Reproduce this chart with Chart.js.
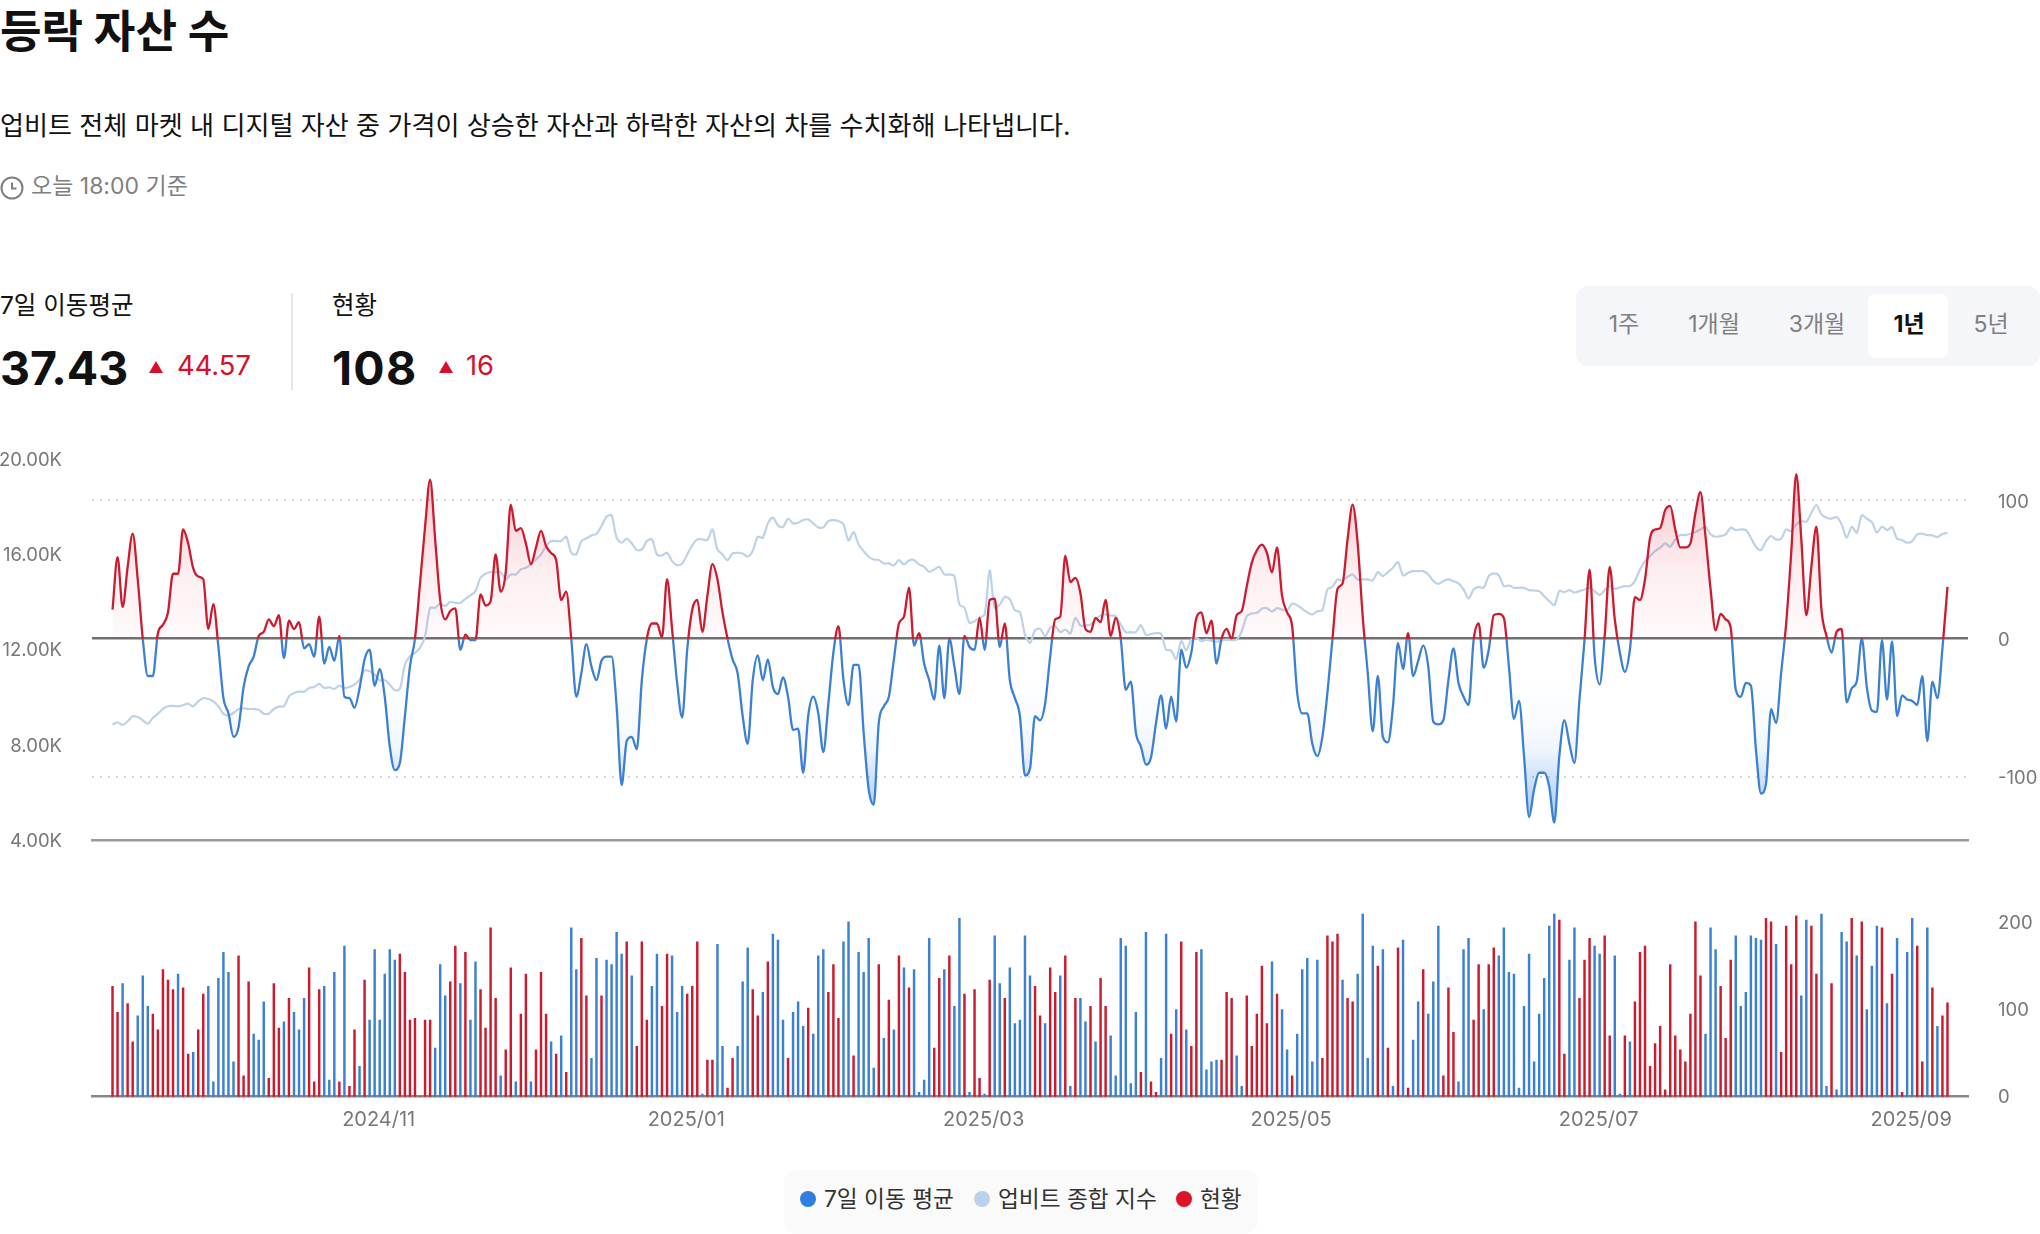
<!DOCTYPE html>
<html lang="ko">
<head>
<meta charset="utf-8">
<title>등락 자산 수</title>
<script src="https://cdn.jsdelivr.net/npm/chart.js@4"></script>
<style>
html, body { margin: 0; padding: 0; background: #fff; }
body { width: 2040px; height: 1234px; position: relative; overflow: hidden; font-family: Inter, "Noto Sans CJK KR", sans-serif; color: #111; }
.t { position: absolute; white-space: nowrap; line-height: 40px; height: 40px; }
.seg { position: absolute; left: 1576px; top: 286px; width: 464px; height: 80px; background: #f5f6fa; border-radius: 12px; }
.seg-on { position: absolute; left: 1868px; top: 294px; width: 80px; height: 64px; background: #fff; border-radius: 8px; }
.btn { transform: translateX(-50%); font-size: 23px; color: #808080; top: 304px; }
.tri { position: absolute; width: 0; height: 0; border-left: 7.5px solid transparent; border-right: 7.5px solid transparent; border-bottom: 12px solid #d60f2a; }
.divider { position: absolute; left: 291px; top: 293px; width: 1.5px; height: 97px; background: #e4e6ea; }
.legend-box { position: absolute; left: 784px; top: 1170px; width: 474px; height: 63px; background: #fafafa; border-radius: 12px; }
.dot { position: absolute; width: 16px; height: 16px; border-radius: 50%; top: 1191px; }
canvas { position: absolute; left: 0; }
#lineWrap { position: absolute; left: 0; top: 440px; width: 2040px; height: 420px; }
#barWrap { position: absolute; left: 0; top: 880px; width: 2040px; height: 260px; }
</style>
</head>
<body>
<div class="t" style="left:0;top:10px;font-size:45.2px;font-weight:700;line-height:44px;height:44px">등락 자산 수</div>
<div class="t" style="left:0;top:106px;font-size:26.1px">업비트 전체 마켓 내 디지털 자산 중 가격이 상승한 자산과 하락한 자산의 차를 수치화해 나타냅니다.</div>
<svg style="position:absolute;left:0;top:176px" width="24" height="24" viewBox="0 0 24 24" fill="none" stroke="#808080" stroke-width="2"><circle cx="12" cy="12" r="10.5"/><path d="M12 6.5V12.5H16.5"/></svg>
<div class="t" style="left:31px;top:166px;font-size:23px;color:#808080">오늘 18:00 기준</div>

<div class="t" style="left:0;top:285px;font-size:24.5px">7일 이동평균</div>
<div class="t" style="left:0;top:348px;font-size:46.5px;font-weight:700">37.43</div>
<div class="tri" style="left:149px;top:361px"></div>
<div class="t" style="left:177px;top:346px;font-size:27.3px;color:#d60f2a">44.57</div>
<div class="divider"></div>
<div class="t" style="left:332px;top:285px;font-size:24.5px">현황</div>
<div class="t" style="left:332px;top:348px;font-size:46.5px;font-weight:700;letter-spacing:1.3px">108</div>
<div class="tri" style="left:439px;top:361px"></div>
<div class="t" style="left:466px;top:346px;font-size:27.3px;color:#d60f2a">16</div>

<div class="seg"></div>
<div class="seg-on"></div>
<div class="t btn" style="left:1624px">1주</div>
<div class="t btn" style="left:1714px">1개월</div>
<div class="t btn" style="left:1817px">3개월</div>
<div class="t btn" style="left:1909px;color:#111;font-weight:700">1년</div>
<div class="t btn" style="left:1991px">5년</div>

<div id="lineWrap"><canvas id="lineChart"></canvas></div>
<div id="barWrap"><canvas id="barChart"></canvas></div>

<div class="legend-box"></div>
<div class="dot" style="left:800px;background:#2f7fe0"></div>
<div class="t" style="left:824px;top:1179px;font-size:22.7px;color:#333">7일 이동 평균</div>
<div class="dot" style="left:974px;background:#bcd2e8"></div>
<div class="t" style="left:998px;top:1179px;font-size:22.7px;color:#333">업비트 종합 지수</div>
<div class="dot" style="left:1176px;background:#e0112b"></div>
<div class="t" style="left:1200px;top:1179px;font-size:22.7px;color:#333">현황</div>

<script>
// one entry per day, first day is 2024-09-09
const movingAvg = [
  21,59,23,52,76,43,0,-27,-27,4,
  10,19,47,47,79,69,51,45,43,7,
  25,-6,-43,-54,-71,-64,-35,-20,-13,2,
  5,14,9,17,-14,13,7,12,-7,-4,
  -13,16,-18,-6,-16,2,-42,-43,-50,-36,
  -15,-8,-34,-22,-42,-78,-95,-90,-56,-20,
  0,40,81,115,72,28,14,20,22,-8,
  3,-1,-1,32,24,27,61,34,48,97,
  78,80,69,54,66,78,67,62,57,28,
  34,0,-42,-25,-4,-20,-30,-16,-13,-13,
  -49,-106,-74,-71,-80,-30,0,11,11,1,
  43,7,-32,-57,-8,21,28,5,31,54,
  43,19,0,-15,-25,-56,-76,-30,-12,-30,
  -15,-35,-40,-28,-42,-66,-65,-97,-56,-42,
  -54,-82,-47,-10,9,-30,-48,-19,-19,-68,
  -109,-120,-61,-49,-42,-15,11,16,37,-5,
  4,-18,-30,-44,-5,-43,0,-20,-40,2,
  -6,-8,15,-8,28,29,-6,11,-30,-43,
  -56,-99,-94,-56,-59,-47,-13,14,16,60,
  41,44,33,7,5,15,12,28,2,15,
  0,-37,-31,-68,-78,-91,-86,-61,-41,-65,
  -42,-60,-8,-21,-10,15,19,4,13,-18,
  0,7,0,17,20,38,55,64,68,62,
  48,66,31,19,9,-39,-54,-54,-76,-85,
  -71,-39,0,36,40,72,97,69,16,-25,
  -67,-27,-71,-75,-49,-3,-22,4,-27,-16,
  -5,-20,-60,-62,-59,-30,-7,-32,-42,-48,
  -1,11,-21,-8,17,18,15,-20,-58,-45,
  -85,-129,-109,-97,-97,-107,-133,-85,-59,-76,
  -90,-44,-1,50,-13,-33,2,52,14,-10,
  -24,-8,30,28,43,73,79,80,93,96,
  79,66,66,69,91,106,74,36,6,18,
  14,8,-37,-42,-32,-34,-80,-112,-105,-51,
  -61,-25,11,62,119,72,17,52,81,21,
  2,-10,5,7,-46,-36,-31,0,-35,-52,
  -53,-1,-44,-2,-56,-41,-44,-45,-48,-27,
  -74,-31,-43,-7,37.43
];

const compositeIndex = [
  8858,8956,8844,8998,9208,9180,9040,8900,9138,9320,
  9516,9628,9642,9628,9670,9740,9628,9838,9964,9936,
  9838,9628,9320,9236,9348,9516,9544,9516,9516,9488,
  9320,9320,9516,9614,9628,10048,10188,10244,10244,10398,
  10440,10566,10398,10426,10356,10496,10398,10440,10538,10748,
  11126,11098,10958,10720,10720,10538,10300,10356,11378,11728,
  11868,12078,12568,13758,13758,13940,13828,14010,13968,13968,
  14136,14276,14458,15018,15186,15256,15256,15256,14948,15158,
  15158,15368,15438,15578,15788,15998,16348,16558,16558,16558,
  16740,16068,15998,16558,16670,16796,16866,17188,17580,17636,
  16698,16488,16656,16460,16180,16208,16558,16628,15998,15956,
  16068,15718,15550,15620,15998,16376,16628,16628,16600,17048,
  16208,15998,15760,16040,16068,16040,15900,16138,16740,16698,
  17300,17538,17216,17146,17496,17300,17328,17440,17468,17300,
  17132,17132,17398,17440,17398,17258,16586,16936,16418,16138,
  15900,15788,15760,15620,15620,15536,15760,15578,15746,15760,
  15578,15480,15270,15368,15480,15158,15158,15088,13898,13758,
  13128,13198,13338,13478,15326,13758,13898,14220,14108,13660,
  13576,12638,12288,12820,12876,12568,12918,12988,12736,12848,
  12680,13338,13016,13016,13058,13268,13436,13478,13436,13408,
  13058,12736,12736,12736,13030,12624,12666,12694,12666,12008,
  11966,11616,12358,11980,12428,12498,12358,12428,12372,12344,
  12386,12428,12400,12428,12778,13408,13520,13548,13716,13744,
  13604,13744,13688,13660,13926,13870,13716,13576,13478,13618,
  13660,14528,14640,14948,14906,15060,15158,14948,14948,14948,
  14906,15256,15088,15256,15438,15676,15116,15228,15298,15298,
  15298,15158,14878,14766,14878,14948,14878,14780,14528,14150,
  14528,14640,14598,15088,15200,15116,14668,14696,14598,14598,
  14598,14500,14486,14458,14248,14038,13870,14458,14416,14500,
  14402,14458,14528,14598,14458,14290,14500,14668,14556,14612,
  14668,14668,14878,15368,15718,15928,16138,16278,16460,16320,
  16628,16810,16810,16866,16936,17048,17160,16838,16740,16768,
  16838,17118,17020,17048,17020,16698,16320,16180,16558,16768,
  16628,16656,17048,16978,17258,17398,17370,17748,18070,17678,
  17538,17496,17566,17258,16698,17160,16908,17636,17496,17356,
  16908,17160,17020,17146,16656,16600,16488,16558,16838,16866,
  16810,16796,16726,16852,16908
];

// net up minus down per day, negative days are the blue bars
const status = [
  127,97,-130,107,63,-93,-139,-104,95,77,146,134,123,-141,125,49,-51,77,118,-127,
  -17,-136,-166,-143,-40,162,24,132,-72,-65,-109,21,130,79,-86,113,-97,-77,-113,148,
  17,123,-127,-19,-143,17,-173,12,77,-35,134,-88,-169,-88,-141,-169,-157,164,143,88,
  90,0,88,88,-56,-152,-116,132,173,-130,166,-88,-155,123,79,194,113,-24,54,148,
  -17,95,141,-17,54,143,95,-63,49,-70,28,-194,-146,182,116,-44,-159,116,-157,-152,
  -189,-164,178,-139,58,178,88,-127,-164,104,164,-162,-97,-127,118,127,178,
  -3,42,42,-175,-58,10,44,-58,-132,-171,123,93,-120,155,-187,-180,-88,44,-97,-109,
  -81,102,-72,-162,-169,120,152,90,-178,-201,47,-166,-143,-182,-33,152,-67,111,-77,162,
  -148,125,-146,-5,-19,-182,56,136,-146,162,-104,-205,118,-5,123,21,-3,134,-185,-130,
  113,-148,-84,-88,-185,-139,127,93,-84,148,120,-139,162,-12,113,-113,-86,104,-63,136,
  104,-70,-24,-182,-173,-15,-97,28,-189,17,5,-44,-187,72,-100,178,-77,58,166,-169,
  -31,-40,-42,42,120,113,-47,-12,116,58,95,150,84,-155,118,-100,-54,24,-72,-146,
  -159,-40,-157,44,185,178,187,-134,113,109,-141,-210,-44,-173,150,
  -169,56,-12,171,-180,10,-65,-109,146,-95,-132,-196,24,125,74,-17,-169,-182,88,152,
  -100,152,171,-162,-194,-143,-141,-10,-104,-164,-40,-95,-136,-196,-210,203,49,-157,-194,113,
  157,182,-173,-164,185,70,-162,-3,70,-63,109,166,173,35,61,81,8,152,70,54,
  40,95,201,139,-72,-194,-169,127,67,157,-185,-104,-120,-185,-182,-180,205,201,-175,51,
  196,152,208,-116,-203,196,141,-210,-12,130,-8,-189,-178,205,-162,201,-100,-150,-196,194,
  -107,141,-182,5,-166,-205,173,40,-194,125,-81,93,108
];

const tickDays = [53, 114, 173, 234, 295, 357];
const tickLabels = ['2024/11', '2025/01', '2025/03', '2025/05', '2025/07', '2025/09'];
const leftTicks = [4000, 8000, 12000, 16000, 20000];
const rightTicks = [-100, 0, 100];
const barTicks = [0, 100, 200];

const fontFamily = 'Inter, "Noto Sans CJK KR", sans-serif';
const axisGray = '#777';
const xRange = { min: -4.07, max: 368.07 };

Chart.defaults.font.family = fontFamily;
Chart.defaults.animation = false;
Chart.defaults.responsive = false;

// fixed axis box so both charts line up, no extra room for half tick labels
function fixWidth(w) {
  return scale => { scale.width = w; scale.paddingTop = 0; scale.paddingBottom = 0; };
}
function setTicks(values) {
  return scale => { scale.ticks = values.map(v => ({ value: v })); };
}

const lineCanvas = document.getElementById('lineChart');
lineCanvas.width = 2040; lineCanvas.height = 420;
const lineChart = new Chart(lineCanvas, {
  type: 'line',
  data: {
    datasets: [
      {
        label: '7일 이동 평균',
        data: movingAvg.map((v, i) => ({ x: i, y: v })),
        yAxisID: 'yRight',
        borderWidth: 2.3,
        pointRadius: 0,
        cubicInterpolationMode: 'monotone',
        order: 1
      },
      {
        label: '업비트 종합 지수',
        data: compositeIndex.map((v, i) => ({ x: i, y: v })),
        yAxisID: 'yLeft',
        borderColor: '#bdd2e7',
        borderWidth: 2.2,
        pointRadius: 0,
        tension: 0.3,
        fill: false,
        order: 2
      }
    ]
  },
  options: {
    devicePixelRatio: 1,
    layout: { padding: { top: 19, bottom: 19.5 } },
    plugins: { legend: { display: false }, tooltip: { enabled: false } },
    scales: {
      x: {
        type: 'linear', min: xRange.min, max: xRange.max,
        afterFit: scale => { scale.height = 0; scale.paddingLeft = 0; scale.paddingRight = 0; },
        grid: { display: false },
        border: { color: '#9a9a9a', width: 2.5 },
        ticks: { display: false }
      },
      yLeft: {
        position: 'left', min: 4000, max: 20000,
        afterFit: fixWidth(92),
        afterBuildTicks: setTicks(leftTicks),
        grid: { display: false, drawTicks: false },
        border: { display: false },
        ticks: {
          color: axisGray, font: { size: 18.5 }, padding: 30, labelOffset: 1,
          callback: v => (v / 1000).toFixed(2) + 'K'
        }
      },
      yRight: {
        position: 'right', min: -146, max: 130,
        afterFit: fixWidth(72),
        afterBuildTicks: setTicks(rightTicks),
        border: {
          display: false,
          dash: ctx => ctx.tick && ctx.tick.value === 0 ? [] : [2, 6]
        },
        grid: {
          drawTicks: false,
          color: ctx => ctx.tick.value === 0 ? '#707070' : '#d4d4d4',
          lineWidth: ctx => ctx.tick.value === 0 ? 2.5 : 2
        },
        ticks: { color: axisGray, font: { size: 18.5 }, padding: 30, labelOffset: 1.5 }
      }
    }
  }
});

// line and area colours switch at the zero line, so they need the scale's pixels
const yr = lineChart.scales.yRight;
const top0 = yr.top, bot0 = yr.bottom, zeroY = yr.getPixelForValue(0);
const ctx = lineCanvas.getContext('2d');
const split = (zeroY - top0) / (bot0 - top0);
const stroke = ctx.createLinearGradient(0, top0, 0, bot0);
stroke.addColorStop(0, '#cc1a2e');
stroke.addColorStop(split, '#cc1a2e');
stroke.addColorStop(split, '#3b80d2');
stroke.addColorStop(1, '#3b80d2');
const fillUp = ctx.createLinearGradient(0, zeroY, 0, top0);
fillUp.addColorStop(0, 'rgba(224,17,43,0.02)');
fillUp.addColorStop(0.38, 'rgba(224,17,43,0.07)');
fillUp.addColorStop(0.77, 'rgba(224,17,43,0.2)');
fillUp.addColorStop(1, 'rgba(224,17,43,0.3)');
const fillDown = ctx.createLinearGradient(0, zeroY, 0, bot0);
fillDown.addColorStop(0, 'rgba(47,127,224,0)');
fillDown.addColorStop(0.2, 'rgba(47,127,224,0)');
fillDown.addColorStop(0.41, 'rgba(47,127,224,0.03)');
fillDown.addColorStop(0.55, 'rgba(47,127,224,0.08)');
fillDown.addColorStop(0.68, 'rgba(47,127,224,0.22)');
fillDown.addColorStop(0.85, 'rgba(47,127,224,0.38)');
fillDown.addColorStop(1, 'rgba(47,127,224,0.45)');
lineChart.data.datasets[0].borderColor = stroke;
lineChart.data.datasets[0].fill = { target: { value: 0 }, above: fillUp, below: fillDown };
lineChart.update('none');

const barCanvas = document.getElementById('barChart');
barCanvas.width = 2040; barCanvas.height = 260;
new Chart(barCanvas, {
  type: 'bar',
  data: {
    datasets: [{
      label: '현황',
      data: status.map((v, i) => ({ x: i, y: Math.abs(v) })),
      backgroundColor: status.map(v => v < 0 ? '#3b80d2' : '#cc1a2e'),
      barThickness: 1.8
    }]
  },
  options: {
    devicePixelRatio: 1,
    layout: { padding: { top: 25.3, left: 92 } },
    plugins: { legend: { display: false }, tooltip: { enabled: false } },
    scales: {
      x: {
        type: 'linear', min: xRange.min, max: xRange.max, offset: false,
        afterFit: scale => { scale.height = 43.3; scale.paddingLeft = 0; scale.paddingRight = 0; },
        afterBuildTicks: setTicks(tickDays),
        grid: { display: false, drawTicks: false },
        border: { color: '#888', width: 2.5 },
        ticks: {
          color: axisGray, font: { size: 20 }, padding: 11,
          autoSkip: false, maxRotation: 0, labelOffset: -1,
          callback: v => tickLabels[tickDays.indexOf(v)]
        }
      },
      y: {
        position: 'right', min: 0, max: 220,
        afterFit: fixWidth(72),
        afterBuildTicks: setTicks(barTicks),
        grid: { display: false, drawTicks: false },
        border: { display: false },
        ticks: { color: axisGray, font: { size: 18.5 }, padding: 30, labelOffset: 0.5 }
      }
    }
  }
});
</script>
</body>
</html>
